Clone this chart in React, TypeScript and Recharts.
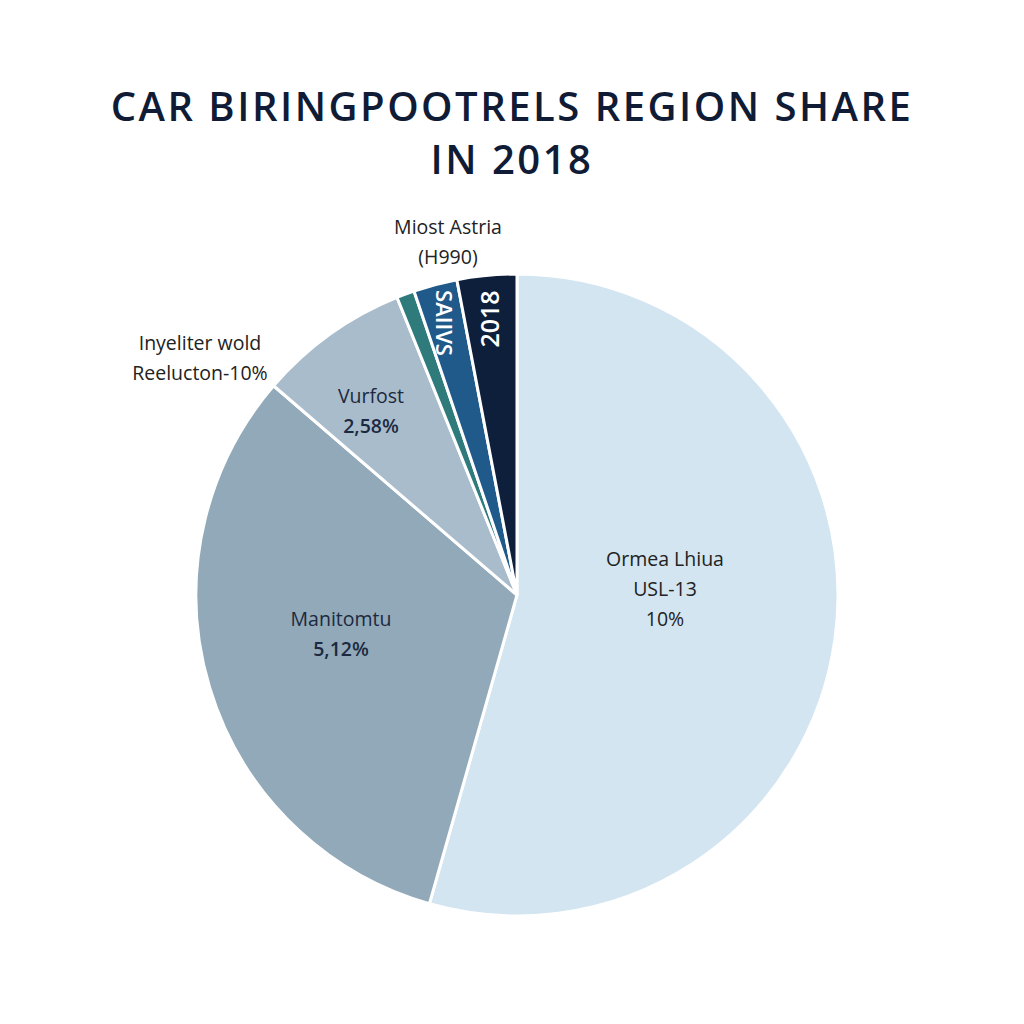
import { Cell, Pie, PieChart } from "recharts"

const regions = ["Ormea Lhiua", "Manitomtu", "Vurfost", "Inyeliter wold", "SAIIVS", "2018"]
const shares = [54.4, 31.9, 7.6, 0.9, 2.2, 3.0]
const sliceColors = ["#d3e5f1", "#91a9b9", "#a9bccb", "#2f7b7c", "#1f5a8a", "#0d1f3b"]

const titleLines = ["CAR BIRINGPOOTRELS REGION SHARE", "IN 2018"]

const labelLines: string[][] = [
  ["Ormea Lhiua", "USL-13", "10%"],
  ["Manitomtu", "5,12%"],
  ["Vurfost", "2,58%"],
  ["Inyeliter wold", "Reelucton-10%"],
  ["Miost Astria", "(H990)"],
  [],
]

// block centre of each label, relative to the pie centre
const labelOffsets = [
  { x: 148, y: -7 },
  { x: -176, y: 38 },
  { x: -146, y: -185 },
  { x: -317, y: -238 },
  { x: -69, y: -354 },
  { x: 0, y: 0 },
]

// text written along the thin slices
const rotatedText = [
  null,
  null,
  null,
  null,
  { text: "SAIIVS", x: -72, y: -272, angle: 90, size: 22 },
  { text: "2018", x: -28, y: -276, angle: -90, size: 25 },
]

const chartData = regions.map((name, i) => ({ name, value: shares[i] }))

const FONT = "'Open Sans', 'Noto Sans', sans-serif"

function renderLabel(props: any) {
  const { cx, cy, index } = props
  const lines = labelLines[index] ?? []
  const off = labelOffsets[index]
  const rot = rotatedText[index]
  const lh = 30
  const top = cy + off.y - ((lines.length - 1) * lh) / 2
  const inside = index === 1 || index === 2
  return (
    <g key={`lbl-${index}`}>
      {lines.map((line, j) => (
        <text
          key={j}
          x={cx + off.x}
          y={top + j * lh}
          textAnchor="middle"
          dominantBaseline="central"
          fontFamily={FONT}
          fontSize={19.5}
          fontWeight={inside && j === 1 ? 600 : 400}
          fill={inside ? "#1c2940" : "#222222"}
        >
          {line}
        </text>
      ))}
      {rot && (
        <text
          x={cx + rot.x}
          y={cy + rot.y}
          textAnchor="middle"
          dominantBaseline="central"
          fontFamily={FONT}
          fontSize={rot.size}
          fontWeight={600}
          fill="#ffffff"
          transform={`rotate(${rot.angle} ${cx + rot.x} ${cy + rot.y})`}
        >
          {rot.text}
        </text>
      )}
    </g>
  )
}

export default function App() {
  return (
    <div
      style={{
        position: "fixed",
        left: 0,
        top: 0,
        width: 1024,
        height: 1024,
        background: "#ffffff",
      }}
    >
      {titleLines.map((line, i) => (
        <div
          key={line}
          style={{
            position: "absolute",
            top: 79 + i * 53,
            left: 0,
            width: 1024,
            textAlign: "center",
            fontFamily: FONT,
            fontWeight: 650,
            fontSize: 40,
            letterSpacing: 2.5,
            lineHeight: "54px",
            color: "#101b36",
          }}
        >
          {line}
        </div>
      ))}
      <div style={{ position: "absolute", left: 0, top: 0 }}>
        <PieChart width={1024} height={1024}>
          <Pie
            data={chartData}
            dataKey="value"
            nameKey="name"
            cx={512}
            cy={590}
            outerRadius={321}
            startAngle={90}
            endAngle={-270}
            stroke="#ffffff"
            strokeWidth={3}
            label={renderLabel}
            labelLine={false}
            isAnimationActive={false}
          >
            {chartData.map((entry, i) => (
              <Cell key={entry.name} fill={sliceColors[i]} />
            ))}
          </Pie>
        </PieChart>
      </div>
    </div>
  )
}
